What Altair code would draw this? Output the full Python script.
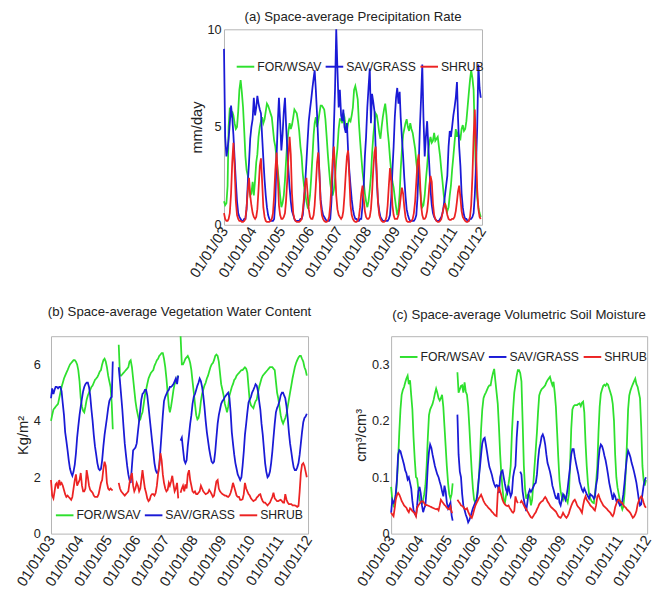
import altair as alt
import pandas as pd

COVERS = ["FOR/WSAV", "SAV/GRASS", "SHRUB"]
COVER_COLORS = ["#2ee02e", "#1a1ad6", "#ec2323"]
TICK_YEARS = [2003, 2004, 2005, 2006, 2007, 2008, 2009, 2010, 2011, 2012]
FIRST_YEAR = 2003
N_YEARS = 9  # half-monthly samples (24 per year)
FONT = "Liberation Sans"

# ---------------- (a) precipitation rate, mm/day ----------------
PRECIP_FOR = [
    1.2, 1.0, 1.1, 2.0, 5.0, 6.0, 5.5, 5.8, 5.6, 5.2, 4.9, 5.0, 5.8, 6.9, 7.4, 6.8, 6.0, 4.8, 3.5, 2.8, 2.5, 1.9, 1.5, 1.6,
    2.2, 1.5, 2.3, 3.2, 3.6, 4.5, 5.0, 5.3, 5.5, 5.2, 5.4, 5.8, 6.2, 6.1, 5.9, 5.7, 5.5, 4.9, 4.3, 4.0, 3.4, 2.8, 2.2, 1.5,
    0.9, 1.1, 1.5, 2.3, 3.2, 4.2, 4.8, 5.2, 4.9, 5.1, 5.5, 5.9, 5.8, 5.7, 5.3, 4.8, 4.0, 3.5, 2.6, 2.0, 1.6, 1.2, 0.9, 1.0,
    1.5, 2.4, 3.5, 4.6, 5.2, 5.5, 5.0, 5.3, 5.7, 6.1, 6.1, 6.0, 5.9, 5.4, 4.5, 3.6, 2.8, 2.1, 1.7, 1.5, 1.8, 2.4, 3.3, 3.9,
    4.9, 5.4, 5.4, 5.2, 5.7, 5.5, 4.9, 4.8, 5.2, 5.4, 5.3, 5.6, 6.0, 6.9, 7.1, 6.8, 6.4, 5.2, 4.3, 3.5, 2.7, 2.2, 1.6, 1.2,
    0.9, 1.2, 1.8, 2.5, 3.6, 4.5, 5.2, 5.7, 5.6, 5.2, 4.7, 4.4, 5.0, 5.5, 5.9, 6.2, 5.6, 4.8, 4.2, 3.4, 2.7, 2.2, 1.9, 1.4,
    0.9, 0.5, 0.8, 1.6, 2.8, 3.8, 4.6, 4.9, 5.2, 5.4, 5.0, 4.8, 5.2, 4.9, 4.7, 4.3, 3.9, 3.2, 2.7, 2.2, 1.9, 1.3, 0.9, 1.0,
    1.5, 2.3, 3.0, 3.8, 4.2, 4.5, 4.2, 4.3, 4.7, 4.3, 4.4, 4.5, 4.0, 3.5, 2.8, 2.2, 1.5, 1.1, 0.9, 0.7, 0.9, 1.5, 2.0, 2.8,
    3.5, 4.2, 4.9, 4.5, 4.7, 4.5, 4.4, 4.9, 5.1, 4.8, 4.9, 5.3, 6.0, 6.7, 7.4, 7.9, 7.5, 6.9, 4.6, 2.5, 1.4, 0.9, 0.6, 0.4,
]
PRECIP_SAV = [
    9.0, 4.5, 3.5, 3.9, 4.4, 5.2, 6.1, 5.5, 4.6, 3.4, 2.2, 1.2, 0.6, 0.4, 0.3, 0.2, 0.2, 0.3, 0.3, 0.8, 2.2, 3.2, 4.4, 5.0,
    5.4, 6.5, 5.6, 6.0, 6.6, 6.2, 5.9, 5.7, 4.5, 3.4, 2.3, 1.5, 0.9, 0.5, 0.3, 0.2, 0.2, 0.2, 0.3, 1.2, 3.5, 5.2, 6.5, 5.3,
    3.8, 4.6, 5.8, 6.5, 5.2, 4.0, 2.8, 1.9, 1.2, 0.7, 0.5, 0.3, 0.2, 0.2, 0.2, 0.2, 0.3, 0.3, 0.5, 1.2, 2.2, 3.2, 4.3, 5.3,
    5.9, 6.4, 7.0, 7.5, 7.9, 6.9, 5.6, 4.2, 2.6, 1.3, 0.8, 0.5, 0.4, 0.3, 0.2, 0.2, 0.2, 0.3, 1.2, 2.7, 5.0, 7.0, 10.0, 8.0,
    6.0, 6.9, 5.6, 5.3, 5.9, 5.0, 4.7, 5.2, 3.8, 2.8, 2.0, 1.3, 0.8, 0.5, 0.3, 0.3, 0.2, 0.2, 0.3, 0.3, 1.0, 2.0, 3.5, 4.5,
    6.0, 7.0, 8.0, 5.2, 6.7, 6.3, 5.8, 3.9, 2.2, 1.2, 0.7, 0.4, 0.3, 0.2, 0.2, 0.2, 0.2, 0.2, 0.3, 0.5, 1.4, 2.8, 4.0, 5.5,
    6.5, 7.0, 6.2, 6.8, 5.5, 4.5, 3.5, 2.4, 1.5, 0.8, 0.5, 0.3, 0.2, 0.2, 0.2, 0.2, 0.3, 0.5, 1.4, 3.0, 5.0, 6.5, 8.2, 5.5,
    3.5, 4.5, 5.3, 4.0, 3.0, 1.8, 1.0, 0.6, 0.4, 0.3, 0.2, 0.2, 0.2, 0.3, 0.4, 0.6, 1.0, 1.5, 2.0, 2.5, 4.0, 4.8, 4.5, 5.0,
    5.6, 6.0, 6.5, 7.3, 5.5, 4.0, 3.0, 1.6, 0.9, 0.5, 0.3, 0.3, 0.2, 0.2, 0.3, 0.3, 0.4, 0.6, 1.5, 3.0, 5.0, 8.2, 7.0, 6.5,
]
PRECIP_SHRUB = [
    0.6, 0.3, 0.2, 0.2, 0.3, 0.6, 1.6, 3.2, 4.2, 3.0, 1.2, 0.5, 0.3, 0.2, 0.2, 0.15, 0.15, 0.2, 0.3, 0.9, 1.8, 2.4, 1.5, 1.0,
    0.6, 0.4, 0.3, 0.4, 0.8, 1.8, 3.0, 3.4, 2.2, 0.9, 0.4, 0.2, 0.15, 0.15, 0.15, 0.2, 0.3, 0.6, 1.5, 2.8, 3.7, 2.5, 1.0, 0.5,
    0.3, 0.3, 0.4, 0.6, 1.2, 2.2, 3.5, 4.5, 3.6, 1.6, 0.6, 0.3, 0.2, 0.15, 0.15, 0.15, 0.2, 0.3, 0.7, 1.4, 2.1, 2.4, 1.6, 0.8,
    0.4, 0.3, 0.3, 0.5, 1.0, 2.0, 3.2, 3.7, 2.6, 1.1, 0.5, 0.3, 0.2, 0.15, 0.15, 0.2, 0.4, 1.0, 2.0, 3.3, 4.0, 2.8, 1.5, 0.8,
    0.5, 0.4, 0.3, 0.4, 0.7, 1.5, 2.6, 3.5, 3.8, 2.5, 1.0, 0.5, 0.3, 0.2, 0.15, 0.15, 0.2, 0.4, 0.9, 1.6, 2.0, 1.3, 0.7, 0.4,
    0.3, 0.3, 0.4, 0.8, 1.6, 2.8, 3.7, 4.0, 2.6, 1.1, 0.5, 0.3, 0.2, 0.15, 0.15, 0.2, 0.4, 1.0, 2.0, 2.9, 2.2, 1.0, 0.5, 0.3,
    0.3, 0.3, 0.5, 0.9, 1.4, 1.9, 1.6, 0.9, 0.4, 0.2, 0.15, 0.15, 0.15, 0.2, 0.3, 0.6, 1.2, 2.2, 3.2, 3.6, 2.4, 1.0, 0.5, 0.3,
    0.3, 0.4, 0.7, 1.3, 2.0, 2.5, 2.2, 1.1, 0.5, 0.3, 0.2, 0.15, 0.15, 0.2, 0.3, 0.6, 0.9, 1.1, 0.8, 0.5, 0.3, 0.25, 0.25, 0.3,
    0.3, 0.4, 0.7, 1.2, 1.7, 2.0, 1.4, 0.7, 0.4, 0.3, 0.2, 0.15, 0.15, 0.2, 0.4, 1.0, 2.5, 4.5, 5.9, 4.0, 1.8, 0.8, 0.4, 0.3,
]

# ---------------- (b) vegetation water content, kg/m2 ----------------
VWC_FOR = [
    4.0, 4.2, 4.4, 4.45, 4.5, 4.55, 4.6, 4.8, 5.0, 5.2, 5.35, 5.5, 5.6, 5.7, 5.8, 5.9, 6.0, 6.05, 6.1, 6.15, 6.15, 6.1, 6.0, 5.8,
    5.4, 4.8, 4.5, 4.35, 4.3, 4.5, 4.75, 4.9, 5.0, 5.1, 5.2, 5.25, 5.35, 5.45, 5.5, 5.55, 5.65, 5.75, 5.8, 6.0, 6.15, 6.2, 6.1, 5.9,
    5.6, 5.4, 5.2, 4.6, 3.7, None, None, None, None, 6.7, 5.6, 5.6, 5.65, 5.7, 5.75, 5.8, 5.85, 5.9, 6.1, 6.15, 5.9, 5.5, 5.1, 4.7,
    4.4, 4.2, 4.0, 4.05, 4.2, 4.3, 4.6, 4.9, 5.1, 5.3, 5.5, 5.6, 5.7, 5.75, 5.8, 5.95, 6.05, 6.15, 6.2, 6.3, 6.35, 6.4, 6.4, 6.2,
    5.9, 5.5, 5.0, 4.5, 4.3, 4.5, 4.8, 5.1, 5.3, 5.4, 5.5, 5.6, None, 7.0, 6.0, 6.0, 6.1, 6.2, 6.25, 6.3, 6.2, 6.05, 5.8, 5.4,
    5.0, 4.6, 4.2, 4.05, 4.1, 4.3, 4.7, 4.95, 5.1, 5.25, 5.35, 5.5, 5.6, 5.75, 5.9, 6.0, 6.05, 6.15, 6.3, 6.35, 6.3, 6.1, 5.7, 5.3,
    5.1, 4.9, 4.6, 4.45, 4.3, 4.5, 4.9, 5.05, 5.2, 5.3, 5.45, 5.5, 5.6, 5.65, 5.7, 5.75, 5.8, 5.8, 5.85, 5.9, 5.85, 5.7, 5.2, 4.7,
    4.55, 4.5, 4.45, 4.6, 4.7, 4.75, 5.0, 5.2, 5.35, 5.5, 5.6, 5.65, 5.7, 5.75, 5.8, 5.85, 5.9, 5.9, 5.9, 5.85, 5.8, 5.4, 5.0, 4.8,
    4.5, 4.2, 4.0, 3.9, 4.0, 4.1, 4.25, 4.5, 4.75, 5.0, 5.25, 5.5, 5.7, 5.9, 6.05, 6.15, 6.25, 6.3, 6.3, 6.2, 6.1, 5.9, 5.8, 5.6,
]
VWC_SAV = [
    4.8, 5.15, 4.95, 5.1, 5.2, 5.2, 5.15, 5.2, 5.2, 5.05, 4.6, 4.2, 3.6, 3.3, 2.95, 2.6, 2.3, 2.15, 2.05, 2.2, 2.45, 2.85, 3.4, 3.8,
    4.2, 4.5, 4.8, 5.05, 5.2, 5.3, 5.35, 5.35, 5.2, 4.9, 4.4, 4.0, 3.5, 3.1, 2.8, 2.5, 2.3, 2.25, 2.3, 2.6, 3.1, 3.5, 3.8, 4.1,
    4.45, 4.7, 4.8, 4.85, 6.1, None, None, None, None, 5.9, 5.4, 4.9, 4.4, 3.8, 3.2, 2.8, 2.4, 2.1, 1.9, 1.8, 2.4, 2.95, 3.0, 3.05,
    3.2, 3.6, 4.0, 4.4, 4.75, 4.95, 5.0, 5.1, 5.1, 4.9, 4.5, 4.1, 3.7, 3.3, 2.9, 2.5, 2.25, 2.15, 2.15, 2.4, 3.0, 3.6, 4.2, 4.7,
    4.85, 4.95, 5.05, 5.1, 5.2, 5.2, 5.25, 5.3, 5.4, 5.5, 5.3, 5.6, None, 3.3, 3.4, 3.0, 2.6, 2.5, 2.6, 3.1, 3.5, 3.9, 4.2, 4.6,
    4.85, 4.95, 5.1, 5.25, 5.35, 5.5, 5.4, 5.2, 4.9, 4.5, 4.0, 3.6, 3.3, 3.0, 2.75, 2.55, 2.5, 2.55, 2.9, 3.4, 3.9, 4.2, 4.4, 4.6,
    4.7, 4.75, 4.85, 4.9, 4.95, 5.0, 4.8, 4.3, 3.6, 3.2, 2.8, 2.5, 2.3, 2.1, 2.0, 1.9, 2.0, 2.4, 2.9, 3.5, 3.9, 4.3, 4.65, 4.75,
    4.85, 5.0, 5.1, 5.2, 5.3, 5.25, 5.05, 4.7, 4.4, 3.9, 3.5, 3.0, 2.5, 2.2, 2.0, 2.05, 2.2, 2.5, 2.9, 3.4, 3.9, 4.3, 4.45, 4.55,
    4.7, 4.9, 5.0, 5.0, 4.9, 4.8, 4.5, 4.1, 3.6, 3.2, 2.9, 2.6, 2.35, 2.25, 2.25, 2.35, 2.5, 2.8, 3.2, 3.6, 3.95, 4.1, 4.15, 4.25,
]
VWC_SHRUB = [
    1.9, 1.35, 1.25, 1.5, 1.75, 1.8, 1.6, 1.9, 1.75, 1.8, 1.7, 1.55, 1.4, 1.3, 1.35, 1.3, 1.25, 1.2, 1.3, 1.6, 1.9, 2.1, 1.7, 1.8,
    1.9, 2.15, 1.7, 1.5, 1.5, 1.6, 2.25, 2.0, 1.7, 1.55, 1.5, 1.45, 1.35, 1.3, 1.3, 1.3, 1.4, 1.6, 1.8, 1.9, 2.3, 2.55, 2.4, 1.8,
    1.6, 1.55, 1.6, 1.55, 1.55, None, None, None, None, 1.8, 1.6, 1.5, 1.45, 1.4, 1.35, 1.4, 1.45, 1.5, 1.8, 2.0, 2.15, 1.7, 1.5, 1.6,
    1.8, 1.7, 1.5, 1.6, 1.9, 2.25, 1.9, 1.6, 1.45, 1.25, 1.15, 1.2, 1.35, 1.4, 1.4, 1.35, 1.45, 1.7, 2.1, 2.4, 2.85, 2.6, 2.1, 1.8,
    1.6, 1.5, 1.55, 1.8, 1.7, 1.85, 2.05, 1.75, 1.5, 1.6, 1.8, 1.25, None, 1.45, 1.6, 1.7, 1.5, 1.75, 1.6, 2.1, 2.25, 1.9, 1.7, 1.5,
    1.45, 1.5, 1.4, 1.4, 1.45, 1.5, 1.7, 1.6, 1.5, 1.45, 1.4, 1.42, 1.45, 1.55, 1.48, 1.4, 1.3, 1.35, 1.6, 1.85, 1.9, 1.6, 1.5, 1.45,
    1.4, 1.38, 1.35, 1.35, 1.32, 1.3, 1.35, 1.45, 1.6, 1.8, 1.65, 1.5, 1.35, 1.3, 1.3, 1.2, 1.2, 1.22, 1.4, 1.8, 1.6, 1.5, 1.4, 1.35,
    1.25, 1.2, 1.15, 1.18, 1.2, 1.28, 1.32, 1.38, 1.4, 1.25, 1.15, 1.1, 1.1, 1.05, 1.0, 1.05, 1.1, 1.2, 1.3, 1.45, 1.25, 1.2, 1.15, 1.15,
    1.18, 1.2, 1.15, 1.1, 1.1, 1.4, 1.2, 1.1, 1.05, 1.05, 1.05, 1.0, 1.0, 1.0, 0.98, 0.95, 0.98, 1.5, 2.15, 2.45, 2.5, 2.4, 2.2, 2.0,
]

# ---------------- (c) volumetric soil moisture, cm3/cm3 ----------------
SM_FOR = [
    0.083, 0.06, 0.05, 0.055, 0.066, 0.09, 0.13, 0.18, 0.22, 0.246, 0.255, 0.26, 0.268, 0.275, 0.28, 0.265, 0.272, 0.245, 0.22, 0.17, 0.13, 0.1, 0.098, 0.08,
    0.06, 0.055, 0.054, 0.06, 0.07, 0.085, 0.12, 0.17, 0.21, 0.22, 0.225, 0.23, 0.238, 0.248, 0.257, 0.25, 0.24, 0.236, 0.24, 0.246, 0.225, 0.19, 0.155, 0.12,
    0.09, 0.07, 0.062, 0.07, 0.089, None, None, None, 0.286, 0.25, 0.256, 0.262, 0.263, 0.25, 0.268, 0.252, 0.246, 0.225, 0.19, 0.15, 0.11, 0.08, 0.06, 0.055,
    0.06, 0.08, 0.1, 0.14, 0.185, 0.22, 0.24, 0.246, 0.25, 0.255, 0.26, 0.263, 0.263, 0.275, 0.285, 0.292, 0.27, 0.25, 0.23, 0.19, 0.14, 0.105, 0.08, 0.06,
    0.055, 0.068, 0.078, 0.088, 0.1, 0.12, 0.18, 0.22, 0.25, 0.265, 0.28, 0.29, 0.29, 0.285, 0.27, 0.2, 0.12, 0.08, 0.062, 0.068, 0.07, 0.065, 0.05, 0.06,
    0.09, 0.12, 0.15, 0.18, 0.215, 0.245, 0.252, 0.256, 0.258, 0.26, 0.263, 0.268, 0.272, 0.275, 0.278, 0.27, 0.263, 0.269, 0.25, 0.225, 0.18, 0.135, 0.095, 0.075,
    0.065, 0.06, 0.068, 0.065, 0.06, 0.055, 0.07, 0.12, 0.185, 0.22, 0.226, 0.228, 0.228, 0.228, 0.23, 0.231, 0.226, 0.232, 0.234, 0.215, 0.16, 0.12, 0.09, 0.07,
    0.062, 0.058, 0.055, 0.054, 0.07, 0.09, 0.12, 0.18, 0.225, 0.248, 0.256, 0.262, 0.264, 0.262, 0.266, 0.264, 0.257, 0.25, 0.243, 0.23, 0.2, 0.14, 0.1, 0.082,
    0.07, 0.058, 0.05, 0.043, 0.048, 0.07, 0.11, 0.16, 0.22, 0.245, 0.254, 0.26, 0.265, 0.27, 0.275, 0.265, 0.26, 0.25, 0.24, 0.19, 0.12, 0.095, 0.085, 0.095,
]
SM_SAV = [
    0.037, 0.06, 0.055, 0.058, 0.07, 0.095, 0.14, 0.148, 0.146, 0.138, 0.13, 0.122, 0.112, 0.107, 0.096, 0.1, 0.09, 0.08, 0.058, 0.042, 0.035, 0.032, 0.05, 0.075,
    0.083, 0.072, 0.05, 0.038, 0.045, 0.05, 0.08, 0.12, 0.145, 0.158, 0.152, 0.14, 0.13, 0.12, 0.112, 0.105, 0.1, 0.092, 0.085, 0.075, 0.066, 0.085, 0.075, 0.055,
    0.045, 0.05, 0.055, 0.032, 0.023, None, None, None, 0.211, 0.14, 0.11, 0.1, 0.07, 0.05, 0.042, 0.034, 0.028, 0.02, 0.024, 0.03, 0.038, 0.045, 0.05, 0.055,
    0.06, 0.072, 0.1, 0.12, 0.14, 0.16, 0.168, 0.17, 0.158, 0.145, 0.13, 0.118, 0.112, 0.105, 0.095, 0.088, 0.083, 0.086, 0.085, 0.072, 0.1, 0.11, 0.112, 0.1,
    0.088, 0.078, 0.072, 0.085, 0.075, 0.066, 0.072, 0.1, 0.112, 0.12, 0.17, 0.2, None, 0.11, 0.105, 0.075, 0.06, 0.05, 0.04, 0.055, 0.072, 0.078, 0.074, 0.078,
    0.083, 0.088, 0.09, 0.105, 0.13, 0.15, 0.16, 0.172, 0.176, 0.17, 0.158, 0.14, 0.125, 0.118, 0.11, 0.1, 0.085, 0.078, 0.07, 0.063, 0.062, 0.072, 0.055, 0.05,
    0.06, 0.07, 0.066, 0.06, 0.066, 0.08, 0.1, 0.118, 0.14, 0.15, 0.15, 0.136, 0.125, 0.115, 0.105, 0.092, 0.085, 0.078, 0.074, 0.08, 0.075, 0.07, 0.066, 0.062,
    0.07, 0.068, 0.066, 0.062, 0.065, 0.085, 0.098, 0.13, 0.15, 0.158, 0.155, 0.148, 0.138, 0.13, 0.118, 0.105, 0.09, 0.08, 0.07, 0.06, 0.07, 0.066, 0.058, 0.06,
    0.055, 0.05, 0.052, 0.058, 0.07, 0.09, 0.115, 0.135, 0.147, 0.142, 0.135, 0.125, 0.118, 0.11, 0.1, 0.09, 0.075, 0.06, 0.05, 0.052, 0.07, 0.085, 0.095, 0.1,
]
SM_SHRUB = [
    0.037, 0.034, 0.031, 0.045, 0.06, 0.068, 0.072, 0.069, 0.064, 0.058, 0.054, 0.05, 0.048, 0.046, 0.041, 0.038, 0.045, 0.043, 0.04, 0.038, 0.036, 0.031, 0.045, 0.05,
    0.053, 0.056, 0.057, 0.057, 0.054, 0.05, 0.051, 0.05, 0.049, 0.048, 0.047, 0.046, 0.045, 0.044, 0.043, 0.044, 0.041, 0.05, 0.06, 0.057, 0.054, 0.051, 0.049, 0.046,
    0.044, 0.043, 0.048, 0.038, 0.037, None, None, None, 0.06, 0.057, 0.054, 0.05, 0.049, 0.047, 0.044, 0.043, 0.045, 0.039, 0.034, 0.03, 0.028, 0.034, 0.042, 0.049,
    0.054, 0.058, 0.063, 0.066, 0.069, 0.064, 0.058, 0.054, 0.051, 0.049, 0.046, 0.044, 0.042, 0.039, 0.037, 0.034, 0.032, 0.031, 0.072, 0.083, 0.075, 0.068, 0.06, 0.055,
    0.052, 0.05, 0.049, 0.05, 0.046, 0.043, 0.039, 0.037, 0.04, 0.066, 0.058, 0.054, None, 0.054, 0.058, 0.055, 0.05, 0.046, 0.044, 0.04, 0.036, 0.032, 0.029, 0.028,
    0.031, 0.035, 0.038, 0.043, 0.047, 0.052, 0.055, 0.057, 0.058, 0.062, 0.065, 0.062, 0.057, 0.054, 0.05, 0.047, 0.045, 0.043, 0.041, 0.039, 0.035, 0.031, 0.029, 0.028,
    0.032, 0.037, 0.033, 0.03, 0.028, 0.031, 0.036, 0.043, 0.049, 0.054, 0.058, 0.06, 0.056, 0.05, 0.047, 0.045, 0.041, 0.037, 0.05, 0.06, 0.066, 0.06, 0.057, 0.054,
    0.05, 0.048, 0.046, 0.043, 0.041, 0.05, 0.066, 0.069, 0.063, 0.058, 0.054, 0.05, 0.048, 0.046, 0.044, 0.041, 0.039, 0.037, 0.033, 0.031, 0.036, 0.047, 0.053, 0.058,
    0.06, 0.058, 0.055, 0.054, 0.05, 0.048, 0.046, 0.043, 0.041, 0.039, 0.036, 0.032, 0.028, 0.03, 0.034, 0.04, 0.052, 0.058, 0.063, 0.066, 0.062, 0.055, 0.049, 0.046,
]


def half_month_dates():
    out = []
    for y in range(FIRST_YEAR, FIRST_YEAR + N_YEARS):
        for m in range(1, 13):
            out.append(f"{y}-{m:02d}-01")
            out.append(f"{y}-{m:02d}-16")
    return out


DATES = half_month_dates()


def long_table(series):
    rows = []
    for cover, values in zip(COVERS, series):
        assert len(values) == len(DATES), (cover, len(values))
        for d, v in zip(DATES, values):
            rows.append({"date": d, "value": v, "cover": cover})
    return pd.DataFrame(rows)


def utc_jan1(y):
    return alt.DateTime(year=y, month=1, date=1, utc=True)


def panel(df, title, y_title, y_max, y_ticks, y_fmt, label_pad, title_offset,
          legend_x, legend_y, width, height):
    x_axis = alt.Axis(
        values=[utc_jan1(y) for y in TICK_YEARS],
        labelExpr="utcFormat(datum.value, '%m/%d/%y')",
        labelAngle=-57, labelAlign="right", labelBaseline="middle", labelFontSize=15,
        labelPadding=3, labelOverlap=False, labelFlush=False, title=None,
        ticks=False, domain=False, grid=False,
    )
    y_axis = alt.Axis(
        values=y_ticks, format=y_fmt, title=y_title, titleFontSize=15,
        titleFontWeight="normal", titlePadding=3, labelFontSize=13,
        labelPadding=label_pad, ticks=False, domain=False, grid=False,
    )
    legend = alt.Legend(
        title=None, orient="none", direction="horizontal", legendX=legend_x,
        legendY=legend_y, symbolType="stroke", symbolSize=324, symbolStrokeWidth=2,
        labelFontSize=12.5, labelOffset=2, columnPadding=0, padding=0, labelLimit=300,
    )
    return alt.Chart(
        df,
        title=alt.Title(title, fontSize=13.5, fontWeight="normal", offset=title_offset,
                        anchor="middle", color="#222222"),
    ).mark_line(strokeWidth=1.8, invalid="break-paths-show-domains").encode(
        x=alt.X("date:T", scale=alt.Scale(type="utc", domain=[utc_jan1(2003), utc_jan1(2012)]),
                axis=x_axis),
        y=alt.Y("value:Q", scale=alt.Scale(domain=[0, y_max], nice=False), axis=y_axis),
        color=alt.Color("cover:N", scale=alt.Scale(domain=COVERS, range=COVER_COLORS),
                        sort=COVERS, legend=legend),
    ).properties(width=width, height=height)


pa = panel(long_table([PRECIP_FOR, PRECIP_SAV, PRECIP_SHRUB]),
           "(a) Space-average Precipitation Rate", "mm/day", 10, [0, 5, 10], "d",
           3, 0, 12, 28, 264, 200)
pb = panel(long_table([VWC_FOR, VWC_SAV, VWC_SHRUB]),
           "(b) Space-average Vegetation Water Content", "Kg/m²", 7, [0, 2, 4, 6], "d",
           11, 15, 4, 173, 263, 202)
pc = panel(long_table([SM_FOR, SM_SAV, SM_SHRUB]),
           "(c) Space-average Volumetric Soil Moisture", "cm³/cm³", 0.35, [0, 0.1, 0.2, 0.3], ".1~f",
           2, 15, 8, 11, 262, 202)

spacer = alt.Chart(pd.DataFrame({"v": [0]})).mark_point(opacity=0).encode(
    x=alt.X("v:Q", axis=None), y=alt.Y("v:Q", axis=None)
).properties(width=138, height=10, view=alt.ViewBackground(strokeOpacity=0))

top = alt.hconcat(spacer, pa, spacing=0).resolve_scale(color="independent")
bottom = alt.hconcat(pb, pc, spacing=38).resolve_scale(color="independent")

chart = alt.vconcat(top, bottom, spacing=24).resolve_scale(color="independent").properties(
    padding={"left": 5, "top": -5, "right": 0, "bottom": 0}, background="white"
).configure(font=FONT).configure_view(stroke="#b3b3b3", strokeWidth=1).configure_axis(
    labelColor="#222222", titleColor="#222222", labelFont=FONT, titleFont=FONT
).configure_legend(labelColor="#222222", labelFont=FONT).configure_title(font=FONT)

chart.save("out.html", embed_options={"renderer": "svg", "actions": False})
